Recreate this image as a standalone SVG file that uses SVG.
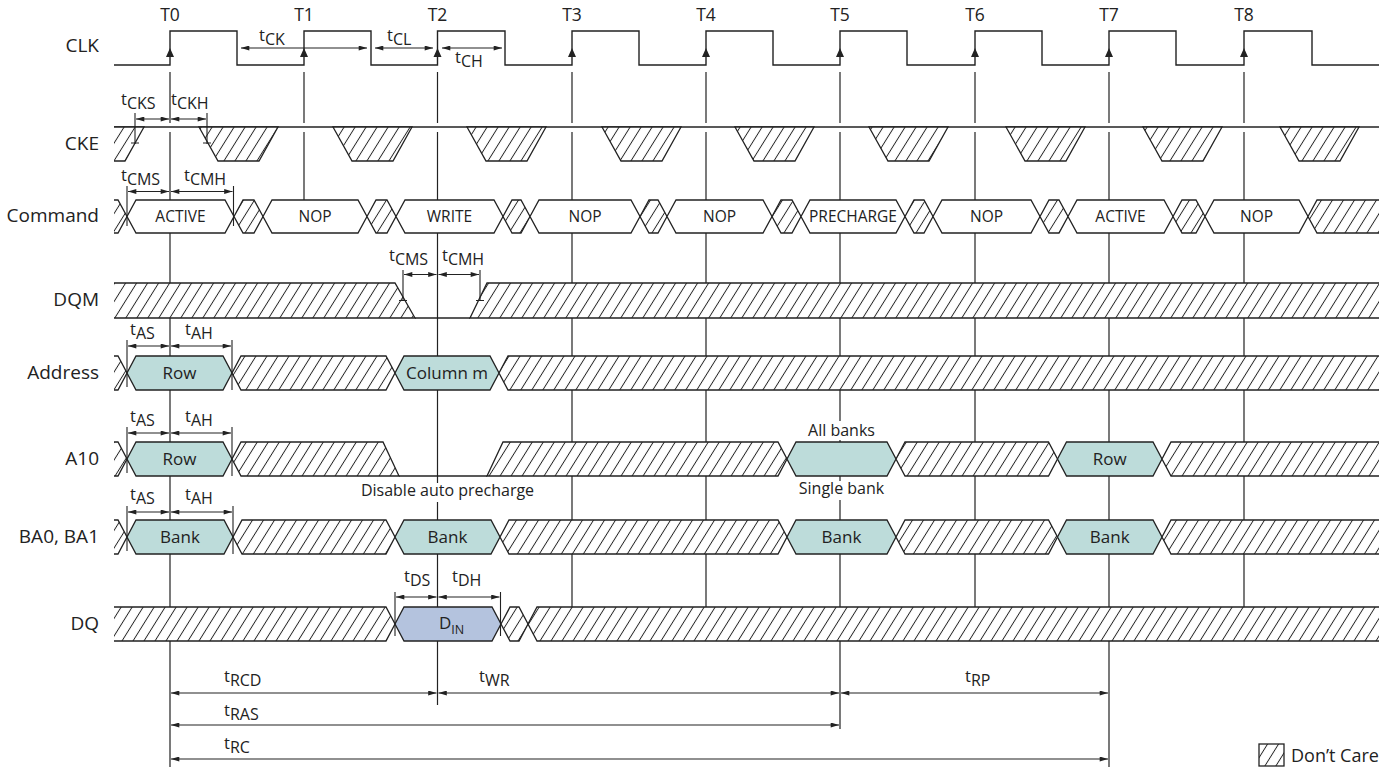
<svg xmlns="http://www.w3.org/2000/svg" width="1397" height="770" viewBox="0 0 1397 770">
<defs>
<pattern id="h" patternUnits="userSpaceOnUse" width="11" height="11" patternTransform="skewX(-32)">
<rect x="-1" y="-1" width="13" height="13" fill="#fff"/>
<line x1="5.5" y1="-1" x2="5.5" y2="12" stroke="#222" stroke-width="1.1"/>
</pattern>
<marker id="ah" viewBox="0 0 10 6" refX="10" refY="3" markerWidth="9" markerHeight="5" markerUnits="userSpaceOnUse" orient="auto-start-reverse"><path d="M0,0L10,3L0,6z" fill="#222"/></marker>
<clipPath id="cl"><rect x="114" y="0" width="1265" height="770"/></clipPath>
<style>
text{font-family:"Open Sans","Noto Sans","DejaVu Sans",sans-serif;fill:#222}
.lbl{font-size:19px;text-anchor:end}
.tn{font-size:17.5px;text-anchor:middle}
.cmd{font-size:15.5px;text-anchor:middle}
.vtx{font-size:17px;text-anchor:middle}
.note{font-size:16px;text-anchor:middle}
.tm{font-size:16.5px}
.sb{font-size:16px}
.sig{fill:none;stroke:#222;stroke-width:1.4}
.tl{fill:none;stroke:#222;stroke-width:1.2}
.dc{fill:url(#h);stroke:#222;stroke-width:1.3}
.val{fill:#fff;stroke:#222;stroke-width:1.3}
.vt{fill:#bddcda;stroke:#222;stroke-width:1.3}
.din{fill:#b4c3de;stroke:#222;stroke-width:1.3}
.dim{fill:none;stroke:#222;stroke-width:1.1}
.tick{fill:none;stroke:#222;stroke-width:1.1}
.clkarr{fill:#222}
</style>
</defs>
<rect width="1397" height="770" fill="#fff"/>

<g id="connectors">
<path class="tl" d="M170,72V123M170,132V767"/>
<path class="tl" d="M304,72V123M304,132V200"/>
<path class="tl" d="M437.5,72V123M437.5,132V705"/>
<path class="tl" d="M572,72V123M572,132V607"/>
<path class="tl" d="M706,72V123M706,132V607"/>
<path class="tl" d="M840,72V123M840,132V729"/>
<path class="tl" d="M975,72V123M975,132V607"/>
<path class="tl" d="M1109,72V123M1109,132V767"/>
<path class="tl" d="M1244,72V123M1244,132V607"/>
</g>

<g id="labels">
<text class="lbl" x="99" y="52">CLK</text>
<text class="lbl" x="99" y="150">CKE</text>
<text class="lbl" x="99" y="222">Command</text>
<text class="lbl" x="99" y="306">DQM</text>
<text class="lbl" x="99" y="379">Address</text>
<text class="lbl" x="99" y="465">A10</text>
<text class="lbl" x="99" y="543">BA0, BA1</text>
<text class="lbl" x="99" y="630">DQ</text>
<text class="tn" x="170" y="21">T0</text>
<text class="tn" x="304" y="21">T1</text>
<text class="tn" x="437.5" y="21">T2</text>
<text class="tn" x="572" y="21">T3</text>
<text class="tn" x="706" y="21">T4</text>
<text class="tn" x="840" y="21">T5</text>
<text class="tn" x="975" y="21">T6</text>
<text class="tn" x="1109" y="21">T7</text>
<text class="tn" x="1244" y="21">T8</text>
</g>

<g id="clk">
<path class="sig" d="M114,65H170V31H237V65H304V31H371V65H437.5V31H505V65H572V31H639V65H706V31H773V65H840V31H907V65H975V31H1042V65H1109V31H1176V65H1244V31H1312V65H1379"/>
<path class="clkarr" d="M170,48l-4,9h8zM304,48l-4,9h8zM437.5,48l-4,9h8zM572,48l-4,9h8zM706,48l-4,9h8zM840,48l-4,9h8zM975,48l-4,9h8zM1109,48l-4,9h8zM1244,48l-4,9h8z"/>
</g>

<g id="cke" clip-path="url(#cl)">
<line class="sig" x1="114" y1="127" x2="1379" y2="127"/>
<polygon class="dc" points="100,127 144,127 125,161 100,161"/>
<polygon class="dc" points="199,127 278,127 259,161 218,161"/>
<polygon class="dc" points="333,127 412,127 393,161 352,161"/>
<polygon class="dc" points="467,127 546,127 527,161 486,161"/>
<polygon class="dc" points="602,127 681,127 662,161 621,161"/>
<polygon class="dc" points="735,127 814,127 795,161 754,161"/>
<polygon class="dc" points="869,127 948,127 929,161 888,161"/>
<polygon class="dc" points="1006,127 1085,127 1066,161 1025,161"/>
<polygon class="dc" points="1143,127 1222,127 1203,161 1162,161"/>
<polygon class="dc" points="1280,127 1359,127 1340,161 1299,161"/>
</g>

<g id="command" clip-path="url(#cl)">
<polygon class="dc" points="100,200 118,200 127,216.5 118,233 100,233"/>
<polygon class="val" points="127,216.5 136,200 225,200 234,216.5 225,233 136,233"/>
<polygon class="dc" points="234,216.5 243,200 254,200 263,216.5 254,233 243,233"/>
<polygon class="val" points="263,216.5 272,200 358,200 367,216.5 358,233 272,233"/>
<polygon class="dc" points="367,216.5 376,200 387,200 396,216.5 387,233 376,233"/>
<polygon class="val" points="396,216.5 405,200 494,200 503,216.5 494,233 405,233"/>
<polygon class="dc" points="503,216.5 512,200 521,200 530,216.5 521,233 512,233"/>
<polygon class="val" points="530,216.5 539,200 631,200 640,216.5 631,233 539,233"/>
<polygon class="dc" points="640,216.5 649,200 658,200 667,216.5 658,233 649,233"/>
<polygon class="val" points="667,216.5 676,200 763,200 772,216.5 763,233 676,233"/>
<polygon class="dc" points="772,216.5 781,200 792,200 801,216.5 792,233 781,233"/>
<polygon class="val" points="801,216.5 810,200 896,200 905,216.5 896,233 810,233"/>
<polygon class="dc" points="905,216.5 914,200 924,200 933,216.5 924,233 914,233"/>
<polygon class="val" points="933,216.5 942,200 1031,200 1040,216.5 1031,233 942,233"/>
<polygon class="dc" points="1040,216.5 1049,200 1059,200 1068,216.5 1059,233 1049,233"/>
<polygon class="val" points="1068,216.5 1077,200 1164,200 1173,216.5 1164,233 1077,233"/>
<polygon class="dc" points="1173,216.5 1182,200 1196,200 1205,216.5 1196,233 1182,233"/>
<polygon class="val" points="1205,216.5 1214,200 1299,200 1308,216.5 1299,233 1214,233"/>
<polygon class="dc" points="1308,216.5 1317,200 1400,200 1400,233 1317,233"/>
<text class="cmd" x="180.5" y="222">ACTIVE</text>
<text class="cmd" x="315" y="222">NOP</text>
<text class="cmd" x="449.5" y="222">WRITE</text>
<text class="cmd" x="585" y="222">NOP</text>
<text class="cmd" x="719.5" y="222">NOP</text>
<text class="cmd" x="853" y="222">PRECHARGE</text>
<text class="cmd" x="986.5" y="222">NOP</text>
<text class="cmd" x="1120.5" y="222">ACTIVE</text>
<text class="cmd" x="1256.5" y="222">NOP</text>
</g>

<g id="dqm" clip-path="url(#cl)">
<polygon class="dc" points="100,283 395,283 415,318 100,318"/>
<line class="sig" x1="415" y1="318" x2="470" y2="318"/>
<polygon class="dc" points="470,318 487,283 1400,283 1400,318"/>
</g>

<g id="address" clip-path="url(#cl)">
<polygon class="dc" points="100,356 118,356 127,373 118,390 100,390"/>
<polygon class="vt" points="127,373 136,356 223,356 232,373 223,390 136,390"/>
<polygon class="dc" points="232,373 241,356 386,356 395,373 386,390 241,390"/>
<polygon class="vt" points="395,373 404,356 490,356 499,373 490,390 404,390"/>
<polygon class="dc" points="499,373 508,356 1400,356 1400,390 508,390"/>
<text class="vtx" x="179.5" y="379">Row</text>
<text class="vtx" x="447" y="379">Column m</text>
</g>

<g id="a10" clip-path="url(#cl)">
<polygon class="dc" points="100,442 118,442 127,459 118,476 100,476"/>
<polygon class="vt" points="127,459 136,442 223,442 232,459 223,476 136,476"/>
<polygon class="dc" points="232,459 241,442 383,442 399,476 241,476"/>
<line class="sig" x1="399" y1="476" x2="487" y2="476"/>
<polygon class="dc" points="487,476 503,442 778,442 787,459 778,476"/>
<polygon class="vt" points="787,459 796,442 887,442 896,459 887,476 796,476"/>
<polygon class="dc" points="896,459 905,442 1048.5,442 1057.5,459 1048.5,476 905,476"/>
<polygon class="vt" points="1057.5,459 1066.5,442 1153,442 1162,459 1153,476 1066.5,476"/>
<polygon class="dc" points="1162,459 1171,442 1400,442 1400,476 1171,476"/>
<text class="vtx" x="179.5" y="465">Row</text>
<text class="vtx" x="1109.75" y="465">Row</text>
</g>

<g id="ba" clip-path="url(#cl)">
<polygon class="dc" points="100,520 118,520 127,537 118,554 100,554"/>
<polygon class="vt" points="127,537 136,520 224,520 233,537 224,554 136,554"/>
<polygon class="dc" points="233,537 242,520 386,520 395,537 386,554 242,554"/>
<polygon class="vt" points="395,537 404,520 491,520 500,537 491,554 404,554"/>
<polygon class="dc" points="500,537 509,520 778,520 787,537 778,554 509,554"/>
<polygon class="vt" points="787,537 796,520 887,520 896,537 887,554 796,554"/>
<polygon class="dc" points="896,537 905,520 1048.5,520 1057.5,537 1048.5,554 905,554"/>
<polygon class="vt" points="1057.5,537 1066.5,520 1153,520 1162,537 1153,554 1066.5,554"/>
<polygon class="dc" points="1162,537 1171,520 1400,520 1400,554 1171,554"/>
<text class="vtx" x="180" y="543">Bank</text>
<text class="vtx" x="447.5" y="543">Bank</text>
<text class="vtx" x="841.5" y="543">Bank</text>
<text class="vtx" x="1109.75" y="543">Bank</text>
</g>

<g id="dq" clip-path="url(#cl)">
<polygon class="dc" points="100,607 386,607 395,624 386,641 100,641"/>
<polygon class="din" points="395,624 404,607 492,607 501,624 492,641 404,641"/>
<polygon class="dc" points="501,624 510,607 519,607 528,624 519,641 510,641"/>
<polygon class="dc" points="528,624 537,607 1400,607 1400,641 537,641"/>
<text x="439" y="629" style="font-size:17px">D<tspan dy="5" style="font-size:12.5px">IN</tspan></text>
</g>

<g id="notes">
<rect x="796" y="421" width="91" height="19" fill="#fff"/>
<text class="note" x="841.5" y="436">All banks</text>
<rect x="789" y="481" width="105" height="19" fill="#fff"/>
<text class="note" x="841.5" y="494">Single bank</text>
<rect x="358" y="483" width="180" height="19" fill="#fff"/>
<text class="note" x="447.5" y="496">Disable auto precharge</text>
</g>

<g id="timing">
<g marker-start="url(#ah)" marker-end="url(#ah)" class="dim">
<line x1="241" y1="48" x2="367" y2="48"/>
<line x1="375" y1="48" x2="433" y2="48"/>
<line x1="442" y1="48" x2="502" y2="48"/>
<line x1="136" y1="119" x2="169" y2="119"/>
<line x1="171" y1="119" x2="206" y2="119"/>
<line x1="128" y1="191.5" x2="169" y2="191.5"/>
<line x1="171" y1="191.5" x2="232.5" y2="191.5"/>
<line x1="404" y1="274.5" x2="436.5" y2="274.5"/>
<line x1="438.5" y1="274.5" x2="479" y2="274.5"/>
<line x1="128" y1="346" x2="169" y2="346"/>
<line x1="171" y1="346" x2="231" y2="346"/>
<line x1="128" y1="433" x2="169" y2="433"/>
<line x1="171" y1="433" x2="231" y2="433"/>
<line x1="128" y1="512" x2="169" y2="512"/>
<line x1="171" y1="512" x2="232" y2="512"/>
<line x1="396" y1="597" x2="436.5" y2="597"/>
<line x1="438.5" y1="597" x2="499.5" y2="597"/>
<line x1="171" y1="693" x2="436.5" y2="693"/>
<line x1="438.5" y1="693" x2="839" y2="693"/>
<line x1="841" y1="693" x2="1108" y2="693"/>
<line x1="171" y1="725" x2="839" y2="725"/>
<line x1="171" y1="759" x2="1108" y2="759"/>
</g>
<path class="tick" d="M135,113V144M131,143H139M207,113V144M203,143H211M127,186V226M233.5,186V226M403,270V301M399,300.5H407M480,270V301M476,300.5H484M127,340V387M232,340V390M127,427V473M232,427V476M127,506V551M233,506V554M395,592V636M500.5,592V636"/>
<text class="tm" x="259" y="41">t<tspan class="sb" dy="4">CK</tspan></text>
<text class="tm" x="387" y="41">t<tspan class="sb" dy="4">CL</tspan></text>
<text class="tm" x="455" y="63">t<tspan class="sb" dy="4">CH</tspan></text>
<text class="tm" x="121" y="105">t<tspan class="sb" dy="4">CKS</tspan></text>
<text class="tm" x="171" y="105">t<tspan class="sb" dy="4">CKH</tspan></text>
<text class="tm" x="121" y="181">t<tspan class="sb" dy="4">CMS</tspan></text>
<text class="tm" x="184" y="181">t<tspan class="sb" dy="4">CMH</tspan></text>
<text class="tm" x="389" y="261">t<tspan class="sb" dy="4">CMS</tspan></text>
<text class="tm" x="442" y="261">t<tspan class="sb" dy="4">CMH</tspan></text>
<text class="tm" x="130" y="335">t<tspan class="sb" dy="4">AS</tspan></text>
<text class="tm" x="185" y="335">t<tspan class="sb" dy="4">AH</tspan></text>
<text class="tm" x="130" y="422">t<tspan class="sb" dy="4">AS</tspan></text>
<text class="tm" x="185" y="422">t<tspan class="sb" dy="4">AH</tspan></text>
<text class="tm" x="130" y="500">t<tspan class="sb" dy="4">AS</tspan></text>
<text class="tm" x="185" y="500">t<tspan class="sb" dy="4">AH</tspan></text>
<text class="tm" x="404" y="582">t<tspan class="sb" dy="4">DS</tspan></text>
<text class="tm" x="452" y="582">t<tspan class="sb" dy="4">DH</tspan></text>
<text class="tm" x="224" y="682">t<tspan class="sb" dy="4">RCD</tspan></text>
<text class="tm" x="479" y="682">t<tspan class="sb" dy="4">WR</tspan></text>
<text class="tm" x="965" y="682">t<tspan class="sb" dy="4">RP</tspan></text>
<text class="tm" x="224" y="716">t<tspan class="sb" dy="4">RAS</tspan></text>
<text class="tm" x="224" y="749">t<tspan class="sb" dy="4">RC</tspan></text>
</g>

<g id="legend">
<rect class="dc" x="1259" y="744" width="25" height="22"/>
<text x="1291" y="762" style="font-size:18px">Don’t Care</text>
</g>
</svg>
